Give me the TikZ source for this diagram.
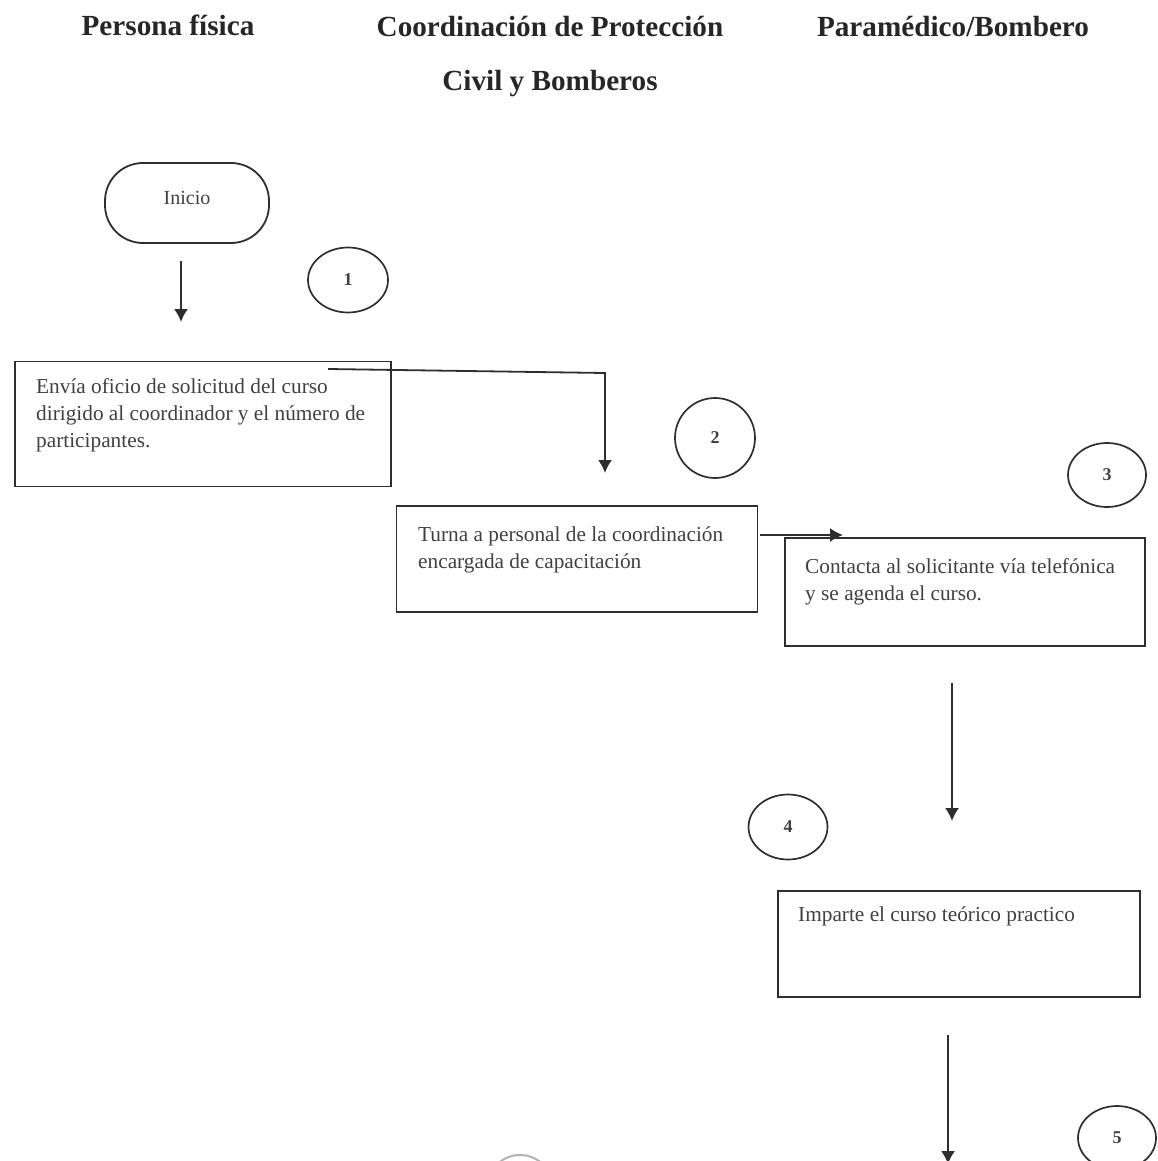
\documentclass[tikz,border=0pt]{standalone}
\usepackage{fontspec}
\setmainfont{Liberation Serif}
\usetikzlibrary{arrows.meta,shapes.geometric}
\definecolor{ink}{gray}{0.18}
\tikzset{
 px/.style={x=1pt,y=-1pt},
 boxn/.style={draw=ink,line width=1.7pt},
 lab/.style={anchor=north west,align=left,font=\fontsize{21.3}{27}\selectfont,text=black!75,inner sep=0pt},
 head/.style={font=\bfseries\fontsize{29.2}{32}\selectfont,text=black!85,inner sep=0pt},
 num/.style={draw=ink,line width=1.7pt,ellipse,inner sep=0pt,font=\bfseries\fontsize{18}{20}\selectfont,text=black!75},
 conn/.style={draw=ink,line width=1.8pt,-{Latex[length=13pt,width=14pt]}},
}
\begin{document}
\begin{tikzpicture}[px]
\useasboundingbox (0,0) rectangle (1158,1161);
\begin{scope}
\clip (0,0) rectangle (1158,1161);
\node[draw=black!30,line width=2pt,circle,minimum size=66pt] (seal) at (520,1188) {};
\node[num,minimum width=78pt,minimum height=64pt] (n5) at (1117,1138) {5};
\coordinate (f0) at (948,1035); \coordinate (f1) at (948,1164);
\draw[conn] (f0) -- (f1);
\end{scope}
\node[head] (h1) at (168,25) {Persona física};
\node[head] (h2) at (550,27) {Coordinación de Protección};
\node[head] (h2b) at (550,84) {Civil y Bomberos};
\node[head] (h3) at (953,27) {Paramédico/Bombero};
\node[draw=ink,line width=1.8pt,rounded corners=38pt,minimum width=164pt,minimum height=80pt] (ini) at (187,203) {};
\node[font=\fontsize{20}{24}\selectfont,text=black!75,inner sep=0pt] (initxt) at (187,198) {Inicio};
\coordinate (a0) at (181,261); \coordinate (a1) at (181,322);
\draw[conn] (a0) -- (a1);
\node[num,minimum width=80pt,minimum height=65pt] (n1) at (348,280) {1};
\node[boxn,minimum width=376pt,minimum height=125pt] (b1) at (203,424) {};
\node[lab] (t1) at (36,378) {Envía oficio de solicitud del curso\\dirigido al coordinador y el número de\\participantes.};
\coordinate (c0) at (328,369); \coordinate (c1) at (605,373); \coordinate (c2) at (605,473);
\draw[conn,line join=miter] (c0) -- (c1) -- (c2);
\node[num,minimum width=80pt,minimum height=80pt] (n2) at (715,438) {2};
\node[boxn,minimum width=361pt,minimum height=106pt] (b2) at (577,559) {};
\node[lab] (t2) at (418,526) {Turna a personal de la coordinación\\encargada de capacitación};
\node[num,minimum width=78pt,minimum height=64pt] (n3) at (1107,475) {3};
\node[boxn,minimum width=360pt,minimum height=108pt] (b3) at (965,592) {};
\node[lab] (t3) at (805,558) {Contacta al solicitante vía telefónica\\y se agenda el curso.};
\coordinate (d0) at (760,535); \coordinate (d1) at (843,535);
\draw[conn] (d0) -- (d1);
\coordinate (e0) at (952,683); \coordinate (e1) at (952,821);
\draw[conn] (e0) -- (e1);
\node[num,minimum width=79pt,minimum height=65pt] (n4) at (788,827) {4};
\node[boxn,minimum width=362pt,minimum height=106pt] (b4) at (959,944) {};
\node[lab] (t4) at (798,906) {Imparte el curso teórico practico};
\end{tikzpicture}
\end{document}
